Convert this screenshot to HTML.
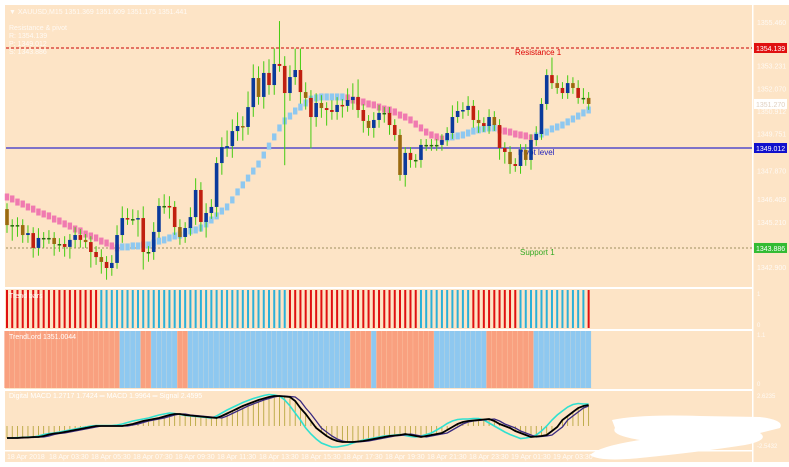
<!DOCTYPE html>
<html><head><meta charset="utf-8"><style>
body{margin:0;background:#fff;}
svg{display:block;font-family:"Liberation Sans",sans-serif;}
</style></head><body>
<svg id="c" width="789" height="467" viewBox="0 0 789 467" xmlns="http://www.w3.org/2000/svg">
<rect x="0" y="0" width="789" height="467" fill="#ffffff"/>
<rect x="5" y="5" width="784" height="457" fill="#fde4c6"/>
<g id="main"></g>
<g id="p2"></g>
<g id="p3"></g>
<g id="p4"></g>
<g id="ax"></g>
</svg>
<script>
const closes=[1345.06,1345.06,1345.06,1344.55,1344.65,1343.89,1344.40,1344.40,1344.40,1344.09,
1344.09,1343.94,1344.30,1344.55,1344.30,1344.19,1343.68,1343.42,1343.17,1342.86,
1343.12,1344.55,1345.42,1345.37,1345.37,1345.42,1343.68,1343.68,1344.71,1346.04,
1346.04,1345.99,1344.96,1344.45,1344.91,1345.47,1346.86,1345.22,1345.68,1345.99,
1348.24,1349.06,1349.11,1349.88,1350.14,1350.09,1351.11,1352.60,1351.63,1352.86,
1352.24,1353.32,1353.22,1351.83,1352.65,1353.01,1351.88,1351.58,1350.60,1351.32,
1351.06,1350.96,1350.86,1351.22,1351.17,1351.47,1351.63,1350.96,1350.40,1350.04,
1350.45,1350.81,1350.81,1350.19,1349.68,1347.63,1348.76,1348.40,1348.40,1349.17,
1349.17,1349.17,1349.17,1349.42,1349.78,1350.60,1350.91,1350.96,1351.17,1350.45,
1350.29,1350.14,1350.60,1350.19,1349.01,1348.81,1348.19,1348.09,1348.91,1348.40,
1349.42,1349.73,1351.27,1352.75,1352.34,1352.09,1351.83,1352.34,1352.09,1351.58,
1351.58,1351.27];
const firstOpen=1345.88;
const upWick=[0.3,0.3,0.4,0.3,0.4,0.3,0.5,0.3,0.4,0.3,0.3,0.4,0.3,0.4,0.3,0.3,0.3,0.3,0.4,0.3,
0.4,0.5,0.6,0.5,0.5,0.4,0.6,0.3,0.5,0.4,0.6,0.5,0.3,0.4,0.3,0.5,0.6,0.4,0.5,0.4,
0.3,0.5,0.8,0.6,0.7,0.5,0.8,0.7,0.6,0.6,0.7,0.8,2.2,0.5,0.6,1.1,1.1,0.5,0.4,0.5,
0.4,0.3,0.5,0.4,0.3,0.6,0.7,0.9,0.3,0.3,0.4,0.4,0.3,0.3,0.3,0.3,0.3,0.3,0.3,0.3,
0.3,0.3,0.3,0.3,0.3,0.6,0.5,0.4,0.5,0.3,0.5,0.3,0.4,0.3,0.3,0.3,0.3,0.3,0.3,0.3,
0.3,0.4,0.3,0.3,0.9,0.4,0.3,0.4,0.3,0.4,0.5,0.3];
const dnWick=[0.4,0.8,0.6,0.4,0.4,0.5,0.4,0.5,0.3,0.6,0.4,0.5,0.6,0.4,0.4,0.3,0.8,0.4,0.6,0.6,
0.4,0.3,0.4,0.3,0.3,0.9,0.9,0.5,0.4,0.3,0.4,0.6,0.4,0.4,0.3,0.4,0.4,0.5,0.8,0.3,
0.5,0.6,0.5,0.6,0.5,0.7,0.4,0.5,0.4,0.6,0.5,0.5,0.3,3.7,0.4,0.4,0.6,0.6,1.6,0.5,
0.5,0.8,0.4,0.4,0.6,0.3,0.5,0.4,0.6,0.4,0.5,0.4,0.5,0.5,0.3,0.3,0.6,0.4,0.4,0.4,
0.3,0.3,0.3,0.3,0.3,0.3,0.3,0.4,0.3,0.4,0.5,0.3,0.4,0.3,0.6,0.6,0.5,0.3,0.4,0.3,
0.5,0.3,0.3,0.3,0.3,0.3,0.3,0.3,0.3,0.3,0.3,0.3];
const maValues=[1346.50,1346.40,1346.24,1346.14,1345.99,1345.88,1345.73,1345.63,1345.53,1345.37,1345.27,1345.12,1345.01,1344.86,1344.76,1344.60,1344.50,1344.40,1344.24,1344.14,1343.99,1343.89,
1343.94,1343.94,1343.99,1343.99,1344.04,1344.04,1344.14,1344.24,1344.30,1344.40,1344.50,1344.55,1344.65,1344.76,1344.81,1344.91,
1345.12,1345.32,1345.53,1345.78,1345.99,1346.35,1346.76,1347.12,1347.47,1347.83,1348.19,1348.65,1349.11,1349.58,1350.04,1350.40,1350.65,1350.91,1351.11,1351.32,1351.52,
1351.58,1351.63,1351.63,1351.63,1351.63,1351.63,1351.58,1351.47,1351.42,1351.37,1351.27,1351.22,1351.11,1351.01,1350.96,1350.86,1350.70,1350.60,1350.45,1350.24,1350.04,1349.83,1349.68,1349.58,1349.47,
1349.53,1349.58,1349.63,1349.68,1349.78,1349.88,1349.94,1349.99,1350.04,1350.04,1349.94,1349.88,1349.83,1349.73,1349.68,1349.63,1349.53,
1349.63,1349.73,1349.83,1349.99,1350.09,1350.19,1350.35,1350.50,1350.65,1350.81,1350.96];
const stripeTrend=[-1,-1,-1,-1,-1,-1,-1,-1,-1,-1,-1,-1,-1,-1,-1,-1,-1,-1,
1,1,1,1,1,1,1,1,1,1,1,1,1,1,1,1,1,1,1,1,1,1,1,1,1,1,1,1,1,1,1,1,1,1,1,1,
-1,-1,-1,-1,-1,-1,-1,-1,-1,-1,-1,-1,-1,-1,-1,-1,-1,-1,-1,-1,-1,-1,-1,-1,-1,
1,1,1,1,1,1,1,1,1,1,-1,-1,-1,-1,-1,-1,-1,-1,-1,1,1,1,1,1,1,1,1,1,1,1,1,1,-1];
const blockTrend=[-1,-1,-1,-1,-1,-1,-1,-1,-1,-1,-1,-1,-1,-1,-1,-1,-1,-1,-1,-1,-1,-1,
1,1,1,1,-1,-1,1,1,1,1,1,-1,-1,
1,1,1,1,1,1,1,1,1,1,1,1,1,1,1,1,1,1,1,1,1,1,1,1,1,1,1,1,1,1,1,
-1,-1,-1,-1,1,-1,-1,-1,-1,-1,-1,-1,-1,-1,-1,-1,
1,1,1,1,1,1,1,1,1,1,-1,-1,-1,-1,-1,-1,-1,-1,-1,1,1,1,1,1,1,1,1,1,1,1];
const macdMain=[-1.2,-1.2,-1.2,-1.15,-1.15,-1.1,-1.1,-1.0,-0.85,-0.75,-0.7,-0.6,-0.5,-0.4,-0.3,-0.2,-0.1,0.0,
0.0,0.0,0.0,0.0,0.0,0.1,0.2,0.35,0.5,0.6,0.7,0.8,0.95,1.1,1.2,1.2,1.1,1.05,1.0,0.95,0.9,0.85,0.8,
1.0,1.25,1.5,1.75,2.0,2.2,2.4,2.6,2.75,2.9,3.0,3.0,2.95,2.9,2.5,1.8,1.2,0.5,-0.2,-0.6,
-1.0,-1.3,-1.5,-1.6,-1.6,-1.6,-1.55,-1.5,-1.4,-1.3,-1.2,-1.1,-1.0,-0.95,-0.9,-0.8,-0.9,-1.0,-1.1,
-1.0,-0.9,-0.8,-0.7,-0.4,-0.1,0.2,0.4,0.5,0.55,0.6,0.65,0.7,0.5,0.2,0.0,-0.2,-0.5,-0.7,-0.9,-1.1,
-1.05,-1.0,-0.9,-0.5,-0.1,0.6,1.0,1.4,1.8,2.0,2.1];
const macdSignal=[-1.2,-1.2,-1.15,-1.15,-1.1,-1.1,-1.0,-0.85,-0.75,-0.7,-0.6,-0.5,-0.4,-0.3,-0.2,-0.1,0.0,0.05,0.05,0.05,
0.05,0.1,0.2,0.35,0.5,0.6,0.7,0.8,0.95,1.1,1.2,1.3,1.25,1.15,1.05,1.0,0.95,0.9,0.85,0.8,
1.0,1.3,1.6,1.85,2.1,2.35,2.55,2.75,2.9,3.05,3.15,3.1,3.0,2.6,2.0,1.3,0.6,-0.2,-0.8,-1.3,
-1.7,-1.9,-2.1,-2.1,-2.0,-1.9,-1.7,-1.55,-1.4,-1.3,-1.2,-1.1,-1.0,-0.95,-0.9,-0.85,-0.95,-1.05,-1.1,-1.0,
-0.85,-0.7,-0.4,-0.1,0.25,0.5,0.65,0.7,0.7,0.75,0.75,0.6,0.3,0.0,-0.3,-0.6,-0.85,-1.05,-1.25,-1.2,
-1.1,-0.9,-0.5,0.0,0.6,1.1,1.5,1.9,2.15,2.25,2.2,2.2];
const macdSlow=[-1.2,-1.2,-1.2,-1.2,-1.15,-1.15,-1.1,-1.1,-1.0,-0.85,-0.75,-0.7,-0.6,-0.5,-0.4,-0.3,-0.2,-0.1,
0.0,0.0,0.0,0.0,0.0,0.0,0.1,0.2,0.35,0.5,0.6,0.7,0.8,0.95,1.1,1.2,1.2,1.1,1.05,1.0,0.95,0.9,0.85,
0.8,1.0,1.25,1.5,1.75,2.0,2.2,2.4,2.6,2.75,2.9,3.0,3.0,2.95,2.9,2.5,1.8,1.2,0.5,-0.2,
-0.6,-1.0,-1.3,-1.5,-1.6,-1.6,-1.6,-1.55,-1.5,-1.4,-1.3,-1.2,-1.1,-1.0,-0.95,-0.9,-0.8,-0.9,-1.0,
-1.1,-1.0,-0.9,-0.8,-0.7,-0.4,-0.1,0.2,0.4,0.5,0.55,0.6,0.65,0.7,0.5,0.2,0.0,-0.2,-0.5,-0.7,-0.9,
-1.1,-1.05,-1.0,-0.9,-0.5,-0.1,0.6,1.0,1.4,1.8,2.0];
const timeLabels=["18 Apr 2018","18 Apr 03:30","18 Apr 05:30","18 Apr 07:30","18 Apr 09:30","18 Apr 11:30","18 Apr 13:30","18 Apr 15:30","18 Apr 17:30","18 Apr 19:30","18 Apr 21:30","18 Apr 23:30","19 Apr 01:30","19 Apr 03:30"];
const priceTicks=[1355.460,1353.231,1352.070,1350.912,1349.751,1347.870,1346.409,1345.210,1343.870,1342.900];
const resistance=1354.139, pivot=1349.012, support=1343.886;

const NS="http://www.w3.org/2000/svg";
function mk(tag,attrs,parent){const e=document.createElementNS(NS,tag);for(const k in attrs)e.setAttribute(k,attrs[k]);parent.appendChild(e);return e;}
const X=i=>7+5.24*i;
const Y=p=>(1356.60-p)/0.05127;
const MY=v=>426-v*10;
const main=document.getElementById('main'),p2=document.getElementById('p2'),p3=document.getElementById('p3'),p4=document.getElementById('p4'),ax=document.getElementById('ax');

// levels
[[resistance,'#cc0000','3,2','Resistance 1',515,'#dd0000'],[pivot,'#0000cc','','Pivot level',518,'#2020bb'],[support,'#a09060','2,2','Support 1',520,'#33aa22']].forEach(l=>{
 const ln=mk('line',{x1:6,x2:752,y1:Y(l[0]),y2:Y(l[0]),stroke:l[1],'stroke-width':1,'stroke-dasharray':l[2]},main);
 
 
 const t=mk('text',{x:l[4],y:Y(l[0])+7,'font-size':8,fill:l[5]},main);t.textContent=l[3];
 
 
});
// MA
let col='#f07ab0';
maValues.forEach((m,i)=>{
 if(i>0){if(m<maValues[i-1])col='#f07ab0';else if(m>maValues[i-1])col='#8ec8f0';}
 const r=mk('rect',{x:X(i)-2.2,y:Y(m)-3.5,width:4.4,height:7,fill:col},main);
 
 
});
// candles
closes.forEach((c,i)=>{
 const o=i===0?firstOpen:closes[i-1];
 const hi=Math.max(o,c)+upWick[i],lo=Math.min(o,c)-dnWick[i];
 const w=mk('line',{x1:X(i),x2:X(i),y1:Y(hi),y2:Y(lo),stroke:'#44cc11','stroke-width':1},main);
 
 
 const top=Y(Math.max(o,c)),bot=Y(Math.min(o,c));
 const b=mk('rect',{x:X(i)-1.8,y:top,width:3.6,height:Math.max(1.5,bot-top),fill:c>o?'#0a3a9c':(c<o?(i%3===0?'#9a6a10':'#c02010'):'#2a6a10')},main);
 
 
});
// top-left info text
const info=mk('text',{x:9,y:14,'font-size':7,fill:'#ffffff','fill-opacity':0.8},main);info.textContent='▼ XAUUSD,M15  1351.369 1351.609 1351.175 1351.441';


['Resistance & pivot','R: 1354.139','P: 1349.012','S: 1343.886'].forEach((s,k)=>{const t=mk('text',{x:9,y:30+k*8,'font-size':7,fill:'#ffffff','fill-opacity':0.8},main);t.textContent=s;
 
 });

// panel separators
[[287,2],[329,2],[389,2],[450,1.5]].forEach(s=>{const l=mk('rect',{x:5,y:s[0],width:748,height:s[1],fill:'#ffffff'},ax);
 
 });
const vline=mk('rect',{x:752,y:5,width:1.5,height:457,fill:'#ffffff'},ax);



// panel 2 stripes
stripeTrend.forEach((s,i)=>{const r=mk('rect',{x:X(i)-1,y:290,width:2,height:38,fill:s>0?'#2ab0d8':'#e01010'},p2);
 
 });
const t2=mk('text',{x:9,y:298,'font-size':7,fill:'#ffffff'},p2);t2.textContent='Trend bars';


// panel 3 blocks
blockTrend.forEach((s,i)=>{const r=mk('rect',{x:X(i)-2.62,y:331,width:5.24,height:57,fill:s>0?'#8ec8f0':'#f9a07f'},p3);
 
 
 const g=mk('line',{x1:X(i)+2.62,x2:X(i)+2.62,y1:331,y2:388,stroke:'#fde4c6','stroke-width':0.6,'stroke-opacity':0.7},p3);
 
 });
const t3=mk('text',{x:9,y:339,'font-size':7,fill:'#ffffff'},p3);t3.textContent='TrendLord 1351.0044';


// panel 4 macd
macdMain.forEach((v,i)=>{const l=mk('line',{x1:X(i),x2:X(i),y1:MY(0),y2:MY(v),stroke:'#b0a030','stroke-width':0.8},p4);
 
 });
[[macdSignal,'#30e0d0',1.6],[macdSlow,'#3a2a80',1.3],[macdMain,'#000000',1.8]].forEach(s=>{
 const d=s[0].map((v,i)=>(i?'L':'M')+X(i).toFixed(1)+' '+MY(v).toFixed(1)).join(' ');
 const p=mk('path',{d:d,fill:'none',stroke:s[1],'stroke-width':s[2]},p4);
 
 
});
const t4=mk('text',{x:9,y:398,'font-size':7,fill:'#ffffff'},p4);t4.textContent='Digital MACD 1.2717 1.7424  ═ MACD 1.9964  ═ Signal 2.4595';



// time labels
timeLabels.forEach((s,k)=>{const t=mk('text',{x:7+k*42,y:459,'font-size':7,fill:'#ffffff','fill-opacity':0.85},ax);t.textContent=s;
 
 });
// price ticks
priceTicks.forEach(p=>{const t=mk('text',{x:757,y:Y(p)+3,'font-size':7,fill:'#ffffff','fill-opacity':0.8},ax);t.textContent=p.toFixed(3);
 
 });
// level badges
[[resistance,'#e01010'],[pivot,'#1010cc'],[support,'#33bb33'],[closes[closes.length-1],'#ffffff']].forEach(b=>{
 const r=mk('rect',{x:754,y:Y(b[0])-5,width:33,height:10,fill:b[1]},ax);
 
 
 const t=mk('text',{x:756,y:Y(b[0])+3,'font-size':7,fill:b[1]==='#ffffff'?'#e0d0c0':'#ffffff'},ax);t.textContent=b[0].toFixed(3);
 
 
});
// panel axis labels
[['1',757,296],['0',757,327],['1.1',757,337],['0',757,386],['2.6235',757,398],['-2.5432',757,448]].forEach(a=>{const t=mk('text',{x:a[1],y:a[2],'font-size':6,fill:'#ffffff','fill-opacity':0.8},ax);t.textContent=a[0];
 
 });
// redaction blob
const blob=mk('path',{d:'M612 420 Q640 414 700 416 L760 417 Q785 420 780 428 L760 433 Q770 440 745 445 Q700 452 640 458 Q600 462 590 455 Q600 446 640 440 Q610 435 615 428 Z',fill:'#ffffff'},ax);


</script>
</body></html>
